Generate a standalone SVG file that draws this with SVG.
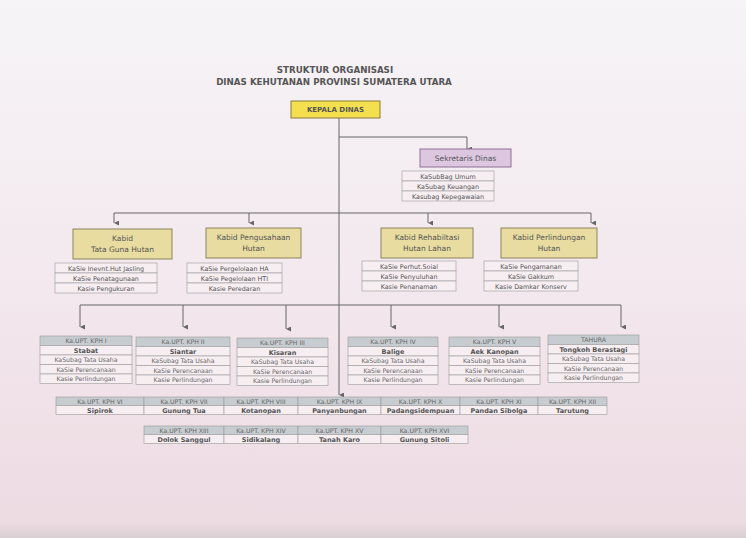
<svg xmlns="http://www.w3.org/2000/svg" width="746" height="538" viewBox="0 0 746 538">
<defs>
<linearGradient id="bg" x1="0" y1="0" x2="0" y2="1">
<stop offset="0" stop-color="#f6f4f7"/>
<stop offset="0.5" stop-color="#f3e9ee"/>
<stop offset="0.97" stop-color="#eddbe2"/>
<stop offset="1" stop-color="#d9cfd3"/>
</linearGradient>
<marker id="ar" viewBox="0 0 8 8" refX="4" refY="8" markerWidth="5" markerHeight="5" orient="auto-start-reverse" markerUnits="userSpaceOnUse">
<path d="M0,0 L8,0 L4,8 z" fill="#666"/>
</marker>
<style>
text{font-family:"DejaVu Sans","Liberation Sans",sans-serif;fill:#4a4a4a;text-anchor:middle}
.ttl{font-size:8.7px;font-weight:bold;fill:#555}
.kd{fill:#f4df4e;stroke:#8a7a3a;stroke-width:1}
.kdt{font-size:7px;font-weight:bold;fill:#555}
.sek{fill:#dcc6e0;stroke:#8f7196;stroke-width:1}
.kb{fill:#e8dca0;stroke:#8c835e;stroke-width:1}
.kbt{font-size:7.5px;fill:#555}
.cell{fill:#f7eef2;stroke:#9a9a9a;stroke-width:0.6}
.hd{fill:#c7ccd0;stroke:#9a9a9a;stroke-width:0.6}
.st{font-size:6.4px;fill:#555}
.ut{font-size:6.2px;fill:#666}
.nm{font-size:6.5px;font-weight:bold;fill:#555}
.cn{fill:none;stroke:#666;stroke-width:1}
</style>
</defs>
<rect width="746" height="538" fill="url(#bg)"/>

<g id="title">
<text class="ttl" x="335" y="73">STRUKTUR ORGANISASI</text>
<text class="ttl" x="334" y="85">DINAS KEHUTANAN PROVINSI SUMATERA UTARA</text>
</g>

<g id="connectors">
<path class="cn" d="M339,118 V395" marker-end="url(#ar)"/>
<path class="cn" d="M339,137 H467 V149" marker-end="url(#ar)"/>
<path class="cn" d="M114,213 H591"/>
<path class="cn" d="M114,213 V223" marker-end="url(#ar)"/>
<path class="cn" d="M249,213 V223" marker-end="url(#ar)"/>
<path class="cn" d="M428,213 V223" marker-end="url(#ar)"/>
<path class="cn" d="M591,213 V223" marker-end="url(#ar)"/>
<path class="cn" d="M80,305 H621"/>
<path class="cn" d="M80,305 V327" marker-end="url(#ar)"/>
<path class="cn" d="M183,305 V327" marker-end="url(#ar)"/>
<path class="cn" d="M286,305 V329" marker-end="url(#ar)"/>
<path class="cn" d="M391,305 V327" marker-end="url(#ar)"/>
<path class="cn" d="M499,305 V327" marker-end="url(#ar)"/>
<path class="cn" d="M621,305 V327" marker-end="url(#ar)"/>
</g>

<g id="kepala">
<rect class="kd" x="291" y="101" width="89" height="17"/>
<text class="kdt" x="335.5" y="112">KEPALA DINAS</text>
</g>

<g id="sekretaris">
<rect class="sek" x="420" y="149" width="91" height="18"/>
<text class="kbt" x="465.5" y="160.5">Sekretaris Dinas</text>
<rect class="cell" x="402" y="171" width="92" height="10"/>
<rect class="cell" x="402" y="181" width="92" height="10"/>
<rect class="cell" x="402" y="191" width="92" height="10"/>
<text class="st" x="448" y="178.5">KaSubBag Umum</text>
<text class="st" x="448" y="188.5">KaSubag Keuangan</text>
<text class="st" x="448" y="198.5">Kasubag Kepegawaian</text>
</g>

<g id="kabid-tgh">
<rect class="kb" x="73" y="229" width="99" height="30"/>
<text class="kbt" x="122.5" y="241">Kabid</text>
<text class="kbt" x="122.5" y="252">Tata Guna Hutan</text>
<rect class="cell" x="55" y="263" width="102" height="10"/>
<rect class="cell" x="55" y="273" width="102" height="10"/>
<rect class="cell" x="55" y="283" width="102" height="10"/>
<text class="st" x="106" y="270.5">KaSie Inevnt.Hut Jasling</text>
<text class="st" x="106" y="280.5">KaSie Penatagunaan</text>
<text class="st" x="106" y="290.5">Kasie Pengukuran</text>
</g>

<g id="kabid-pengusahaan">
<rect class="kb" x="206" y="228" width="95" height="30"/>
<text class="kbt" x="253.5" y="240">Kabid Pengusahaan</text>
<text class="kbt" x="253.5" y="251">Hutan</text>
<rect class="cell" x="187" y="263" width="95" height="10"/>
<rect class="cell" x="187" y="273" width="95" height="10"/>
<rect class="cell" x="187" y="283" width="95" height="10"/>
<text class="st" x="234.5" y="270.5">KaSie Pergelolaan HA</text>
<text class="st" x="234.5" y="280.5">KaSie Pegelolaan HTI</text>
<text class="st" x="234.5" y="290.5">Kasie Peredaran</text>
</g>

<g id="kabid-rehab">
<rect class="kb" x="381" y="228" width="92" height="30"/>
<text class="kbt" x="427" y="240">Kabid Rehabiltasi</text>
<text class="kbt" x="427" y="251">Hutan Lahan</text>
<rect class="cell" x="362" y="261" width="94" height="10"/>
<rect class="cell" x="362" y="271" width="94" height="10"/>
<rect class="cell" x="362" y="281" width="94" height="10"/>
<text class="st" x="409" y="268.5">KaSie Perhut.Soial</text>
<text class="st" x="409" y="278.5">KaSie  Penyuluhan</text>
<text class="st" x="409" y="288.5">Kasie Penanaman</text>
</g>

<g id="kabid-perlindungan">
<rect class="kb" x="501" y="228" width="96" height="30"/>
<text class="kbt" x="549" y="240">Kabid Perlindungan</text>
<text class="kbt" x="549" y="251">Hutan</text>
<rect class="cell" x="484" y="261" width="94" height="10"/>
<rect class="cell" x="484" y="271" width="94" height="10"/>
<rect class="cell" x="484" y="281" width="94" height="10"/>
<text class="st" x="531" y="268.5">KaSie Pengamanan</text>
<text class="st" x="531" y="278.5">KaSie Gakkum</text>
<text class="st" x="531" y="288.5">Kasie Damkar Konserv</text>
</g>

<g id="kph-1" transform="translate(40,336)">
<rect class="hd" x="0" y="0" width="92" height="9.5"/>
<rect class="cell" x="0" y="9.5" width="92" height="9.5"/>
<rect class="cell" x="0" y="19" width="92" height="9.5"/>
<rect class="cell" x="0" y="28.5" width="92" height="9.5"/>
<rect class="cell" x="0" y="38" width="92" height="9.5"/>
<text class="ut" x="46" y="7">Ka.UPT. KPH I</text>
<text class="nm" x="46" y="16.7">Stabat</text>
<text class="ut" x="46" y="26.2">KaSubag Tata Usaha</text>
<text class="ut" x="46" y="35.7">KaSie Perencanaan</text>
<text class="ut" x="46" y="45.2">Kasie Perlindungan</text>
</g>

<g id="kph-2" transform="translate(136,337)">
<rect class="hd" x="0" y="0" width="94" height="9.5"/>
<rect class="cell" x="0" y="9.5" width="94" height="9.5"/>
<rect class="cell" x="0" y="19" width="94" height="9.5"/>
<rect class="cell" x="0" y="28.5" width="94" height="9.5"/>
<rect class="cell" x="0" y="38" width="94" height="9.5"/>
<text class="ut" x="47" y="7">Ka.UPT. KPH II</text>
<text class="nm" x="47" y="16.7">Siantar</text>
<text class="ut" x="47" y="26.2">KaSubag Tata Usaha</text>
<text class="ut" x="47" y="35.7">KaSie Perencanaan</text>
<text class="ut" x="47" y="45.2">Kasie Perlindungan</text>
</g>

<g id="kph-3" transform="translate(237,338)">
<rect class="hd" x="0" y="0" width="91" height="9.5"/>
<rect class="cell" x="0" y="9.5" width="91" height="9.5"/>
<rect class="cell" x="0" y="19" width="91" height="9.5"/>
<rect class="cell" x="0" y="28.5" width="91" height="9.5"/>
<rect class="cell" x="0" y="38" width="91" height="9.5"/>
<text class="ut" x="45.5" y="7">Ka.UPT. KPH III</text>
<text class="nm" x="45.5" y="16.7">Kisaran</text>
<text class="ut" x="45.5" y="26.2">KaSubag Tata Usaha</text>
<text class="ut" x="45.5" y="35.7">KaSie Perencanaan</text>
<text class="ut" x="45.5" y="45.2">Kasie Perlindungan</text>
</g>

<g id="kph-4" transform="translate(348,337)">
<rect class="hd" x="0" y="0" width="90" height="9.5"/>
<rect class="cell" x="0" y="9.5" width="90" height="9.5"/>
<rect class="cell" x="0" y="19" width="90" height="9.5"/>
<rect class="cell" x="0" y="28.5" width="90" height="9.5"/>
<rect class="cell" x="0" y="38" width="90" height="9.5"/>
<text class="ut" x="45" y="7">Ka.UPT. KPH IV</text>
<text class="nm" x="45" y="16.7">Balige</text>
<text class="ut" x="45" y="26.2">KaSubag Tata Usaha</text>
<text class="ut" x="45" y="35.7">KaSie Perencanaan</text>
<text class="ut" x="45" y="45.2">Kasie Perlindungan</text>
</g>

<g id="kph-5" transform="translate(449,337)">
<rect class="hd" x="0" y="0" width="91" height="9.5"/>
<rect class="cell" x="0" y="9.5" width="91" height="9.5"/>
<rect class="cell" x="0" y="19" width="91" height="9.5"/>
<rect class="cell" x="0" y="28.5" width="91" height="9.5"/>
<rect class="cell" x="0" y="38" width="91" height="9.5"/>
<text class="ut" x="45.5" y="7">Ka.UPT. KPH V</text>
<text class="nm" x="45.5" y="16.7">Aek Kanopan</text>
<text class="ut" x="45.5" y="26.2">KaSubag Tata Usaha</text>
<text class="ut" x="45.5" y="35.7">KaSie Perencanaan</text>
<text class="ut" x="45.5" y="45.2">Kasie Perlindungan</text>
</g>

<g id="tahura" transform="translate(548,335)">
<rect class="hd" x="0" y="0" width="91" height="9.5"/>
<rect class="cell" x="0" y="9.5" width="91" height="9.5"/>
<rect class="cell" x="0" y="19" width="91" height="9.5"/>
<rect class="cell" x="0" y="28.5" width="91" height="9.5"/>
<rect class="cell" x="0" y="38" width="91" height="9.5"/>
<text class="ut" x="45.5" y="7">TAHURA</text>
<text class="nm" x="45.5" y="16.7">Tongkoh Berastagi</text>
<text class="ut" x="45.5" y="26.2">KaSubag Tata Usaha</text>
<text class="ut" x="45.5" y="35.7">KaSie Perencanaan</text>
<text class="ut" x="45.5" y="45.2">Kasie Perlindungan</text>
</g>

<g id="kph-6"><rect class="hd" x="56" y="397" width="88" height="8.5"/><rect class="cell" x="56" y="405.5" width="88" height="9"/><text class="ut" x="100" y="403.5">Ka.UPT. KPH VI</text><text class="nm" x="100" y="412.5">Sipirok</text></g>
<g id="kph-7"><rect class="hd" x="144" y="397" width="80" height="8.5"/><rect class="cell" x="144" y="405.5" width="80" height="9"/><text class="ut" x="184" y="403.5">Ka.UPT. KPH VII</text><text class="nm" x="184" y="412.5">Gunung Tua</text></g>
<g id="kph-8"><rect class="hd" x="224" y="397" width="74" height="8.5"/><rect class="cell" x="224" y="405.5" width="74" height="9"/><text class="ut" x="261" y="403.5">Ka.UPT. KPH VIII</text><text class="nm" x="261" y="412.5">Kotanopan</text></g>
<g id="kph-9"><rect class="hd" x="298" y="397" width="83" height="8.5"/><rect class="cell" x="298" y="405.5" width="83" height="9"/><text class="ut" x="339.5" y="403.5">Ka.UPT. KPH IX</text><text class="nm" x="339.5" y="412.5">Panyanbungan</text></g>
<g id="kph-10"><rect class="hd" x="381" y="397" width="79" height="8.5"/><rect class="cell" x="381" y="405.5" width="79" height="9"/><text class="ut" x="420.5" y="403.5">Ka.UPT. KPH X</text><text class="nm" x="420.5" y="412.5">Padangsidempuan</text></g>
<g id="kph-11"><rect class="hd" x="460" y="397" width="78" height="8.5"/><rect class="cell" x="460" y="405.5" width="78" height="9"/><text class="ut" x="499" y="403.5">Ka.UPT. KPH XI</text><text class="nm" x="499" y="412.5">Pandan Sibolga</text></g>
<g id="kph-12"><rect class="hd" x="538" y="397" width="69" height="8.5"/><rect class="cell" x="538" y="405.5" width="69" height="9"/><text class="ut" x="572.5" y="403.5">Ka.UPT. KPH XII</text><text class="nm" x="572.5" y="412.5">Tarutung</text></g>

<g id="kph-13"><rect class="hd" x="144" y="426" width="80" height="8.5"/><rect class="cell" x="144" y="434.5" width="80" height="9"/><text class="ut" x="184" y="432.5">Ka.UPT. KPH XIII</text><text class="nm" x="184" y="441.5">Dolok Sanggul</text></g>
<g id="kph-14"><rect class="hd" x="224" y="426" width="74" height="8.5"/><rect class="cell" x="224" y="434.5" width="74" height="9"/><text class="ut" x="261" y="432.5">Ka.UPT. KPH XIV</text><text class="nm" x="261" y="441.5">Sidikalang</text></g>
<g id="kph-15"><rect class="hd" x="298" y="426" width="83" height="8.5"/><rect class="cell" x="298" y="434.5" width="83" height="9"/><text class="ut" x="339.5" y="432.5">Ka.UPT. KPH XV</text><text class="nm" x="339.5" y="441.5">Tanah Karo</text></g>
<g id="kph-16"><rect class="hd" x="381" y="426" width="87" height="8.5"/><rect class="cell" x="381" y="434.5" width="87" height="9"/><text class="ut" x="424.5" y="432.5">Ka.UPT. KPH XVI</text><text class="nm" x="424.5" y="441.5">Gunung Sitoli</text></g>
</svg>
